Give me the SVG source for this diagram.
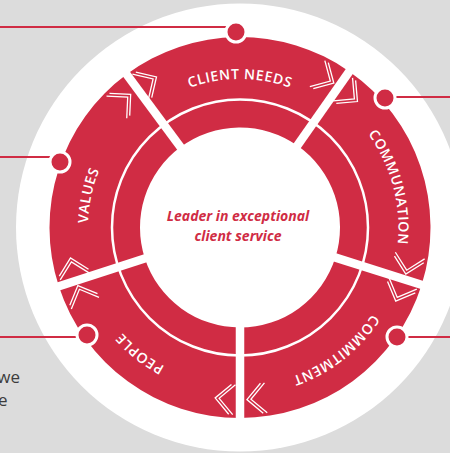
<svg xmlns="http://www.w3.org/2000/svg" width="450" height="453" viewBox="0 0 450 453">
<defs>
<style>
.seg{fill:#d02c44}
.lbl{font-family:"Open Sans","Liberation Sans",sans-serif;font-size:14px;font-weight:600;fill:#fff;letter-spacing:0.6px}
.chev{fill:none;stroke:#fff;stroke-width:1.3}
.sep{stroke:#fff;stroke-width:8.5}
.lead{stroke:#d02c44;stroke-width:2}
.dot{fill:#d02c44;stroke:#fff;stroke-width:3}
.body{font-family:"Open Sans","Liberation Sans",sans-serif;font-size:17px;fill:#3c3c3c;text-anchor:end}
.core{font-family:"Open Sans","Liberation Sans",sans-serif;font-size:14px;font-weight:700;font-style:italic;fill:#d02c44;text-anchor:middle}
</style>
<path id="p148" d="M240,376 A148.5,148.5 0 1 1 240,79 A148.5,148.5 0 1 1 240,376"/>
<path id="p158b" d="M240,386 A158.5,158.5 0 1 1 240,69 A158.5,158.5 0 1 1 240,386"/>
<path id="p158" d="M240,385.5 A158,158 0 1 1 240,69.5 A158,158 0 1 1 240,385.5"/>
<path id="p152" d="M240,379.5 A152,152 0 1 1 240,75.5 A152,152 0 1 1 240,379.5"/>
<path id="chev" class="chev" d="M-6,-15 L9,0 L-6,15 M-10,-15 L5,0 L-10,15"/>
</defs>
<rect width="450" height="453" fill="#dcdcdc"/>
<circle cx="240" cy="227.5" r="224" fill="#fff"/>
<text class="body" x="20" y="383">we</text>
<text class="body" x="7.5" y="406">e</text>

<g id="client-needs">
<path class="seg" d="M126.69,74.36 A190.5,190.5 0 0 1 349.27,71.44 L297.36,145.58 A100,100 0 0 0 180.52,147.11 Z"/>
<text class="lbl"><textPath href="#p148" startOffset="50%" text-anchor="middle">CLIENT NEEDS</textPath></text>
<use href="#chev" transform="translate(240 227.5) rotate(328) translate(0 -172)"/>
<use href="#chev" transform="translate(240 227.5) rotate(30) translate(0 -172)"/>
</g>
<g id="communation">
<path class="seg" d="M349.27,71.44 A190.5,190.5 0 0 1 421.68,284.78 L335.37,257.57 A100,100 0 0 0 297.36,145.58 Z"/>
<text class="lbl"><textPath href="#p158b" startOffset="70.83%" text-anchor="middle">COMMUNATION</textPath></text>
<use href="#chev" transform="translate(240 227.5) rotate(40) translate(0 -172)"/>
<use href="#chev" transform="translate(240 227.5) rotate(102.7) translate(0 -172)"/>
</g>
<g id="commitment">
<path class="seg" d="M421.68,284.78 A190.5,190.5 0 0 1 240,418 L240,327.5 A100,100 0 0 0 335.37,257.57 Z"/>
<text class="lbl"><textPath href="#p158" startOffset="89.44%" text-anchor="middle">COMMITMENT</textPath></text>
<use href="#chev" transform="translate(240 227.5) rotate(112.3) translate(0 -172)"/>
<use href="#chev" transform="translate(240 227.5) rotate(174.7) translate(0 -172)"/>
</g>
<g id="people">
<path class="seg" d="M240,418 A190.5,190.5 0 0 1 58.82,286.36 L144.89,258.4 A100,100 0 0 0 240,327.5 Z"/>
<text class="lbl"><textPath href="#p158" startOffset="10.69%" text-anchor="middle">PEOPLE</textPath></text>
<use href="#chev" transform="translate(240 227.5) rotate(185.3) translate(0 -172)"/>
<use href="#chev" transform="translate(240 227.5) rotate(247.3) translate(0 -172)"/>
</g>
<g id="values">
<path class="seg" d="M58.82,286.36 A190.5,190.5 0 0 1 126.69,74.36 L180.52,147.11 A100,100 0 0 0 144.89,258.4 Z"/>
<text class="lbl"><textPath href="#p152" startOffset="28.33%" text-anchor="middle">VALUES</textPath></text>
<use href="#chev" transform="translate(240 227.5) rotate(256.8) translate(0 -172)"/>
<use href="#chev" transform="translate(240 227.5) rotate(317.6) translate(0 -172)"/>
</g>

<g id="separators">
<circle cx="240" cy="227.5" r="128" fill="none" stroke="#fff" stroke-width="2.5"/>
<line class="sep" x1="0" y1="-97" x2="0" y2="-196" transform="translate(240 227.5) rotate(323.5)"/>
<line class="sep" x1="0" y1="-97" x2="0" y2="-196" transform="translate(240 227.5) rotate(35)"/>
<line class="sep" x1="0" y1="-97" x2="0" y2="-196" transform="translate(240 227.5) rotate(107.5)"/>
<line class="sep" x1="0" y1="-97" x2="0" y2="-196" transform="translate(240 227.5) rotate(180)"/>
<line class="sep" x1="0" y1="-97" x2="0" y2="-196" transform="translate(240 227.5) rotate(252)"/>
</g>

<g id="core">
<text class="core" x="238" y="221">Leader in exceptional</text>
<text class="core" x="238" y="241">client service</text>
</g>

<g id="connectors">
<line class="lead" x1="0" y1="27" x2="236" y2="27"/>
<line class="lead" x1="385" y1="97" x2="450" y2="97"/>
<line class="lead" x1="0" y1="157" x2="60" y2="157"/>
<line class="lead" x1="0" y1="337" x2="87" y2="337"/>
<line class="lead" x1="397" y1="337" x2="450" y2="337"/>
<circle class="dot" cx="236" cy="32" r="10"/>
<circle class="dot" cx="385" cy="98" r="10"/>
<circle class="dot" cx="60" cy="162" r="10"/>
<circle class="dot" cx="87" cy="335" r="10"/>
<circle class="dot" cx="397" cy="337" r="10"/>
</g>
</svg>
